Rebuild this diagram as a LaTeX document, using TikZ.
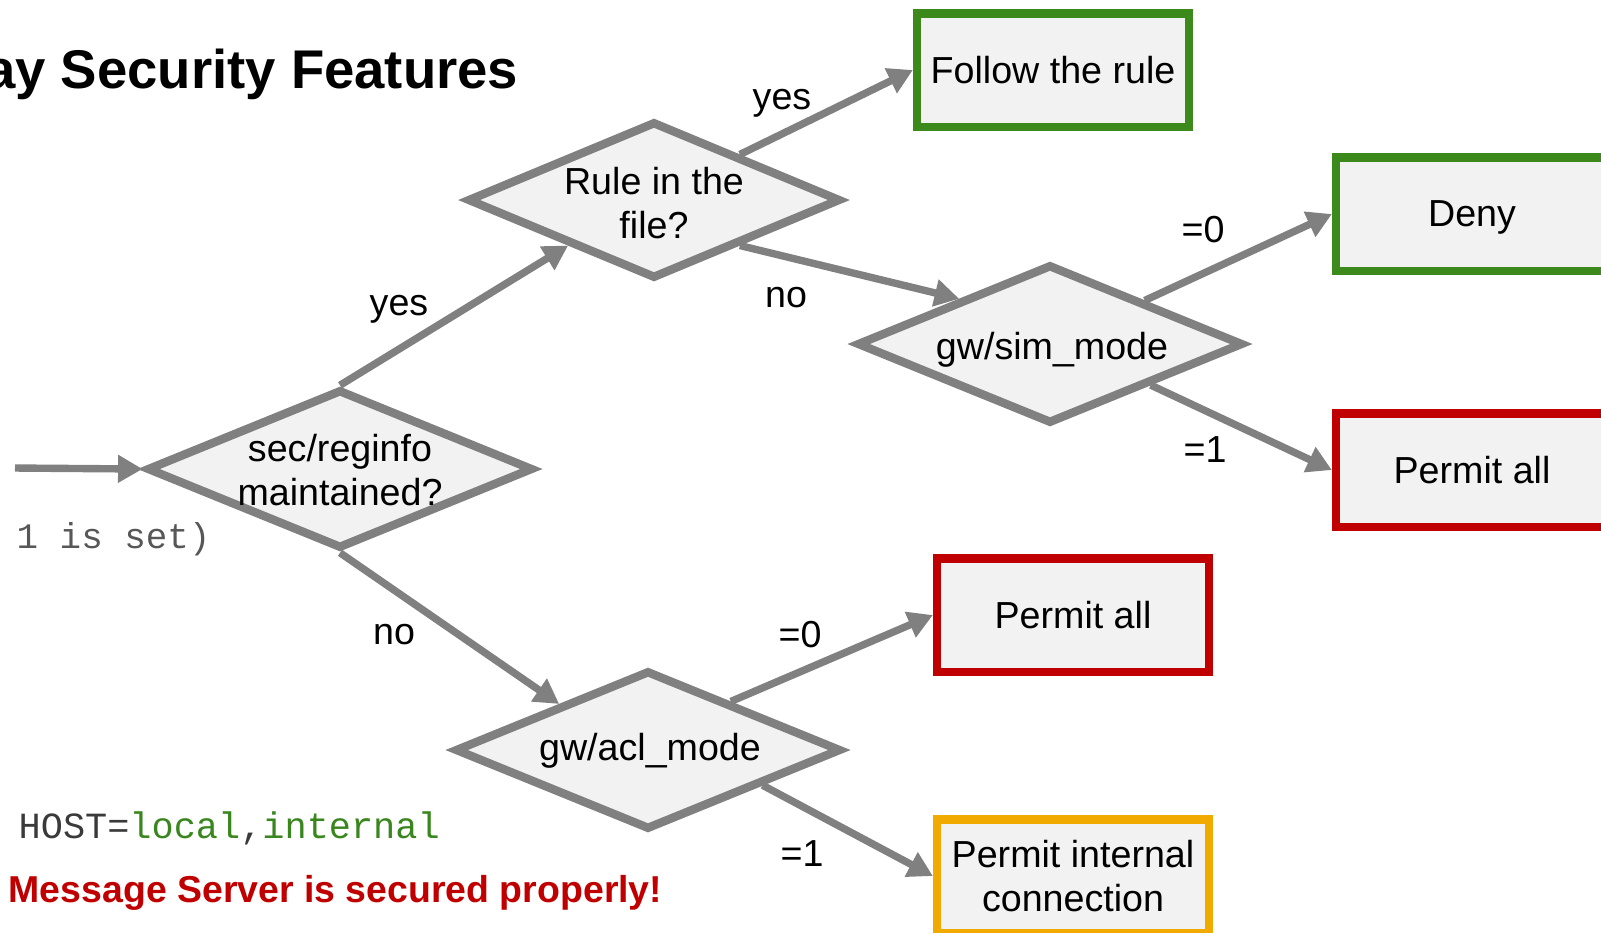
\documentclass[tikz,border=0pt]{standalone}
\usepackage{fontspec}
\setmainfont{Liberation Sans}
\setmonofont{Liberation Mono}
\usetikzlibrary{positioning, arrows.meta, calc, shapes.geometric}

\definecolor{linegray}{HTML}{808080}
\definecolor{boxfill}{HTML}{F2F2F2}
\definecolor{okgreen}{HTML}{3C8A1C}
\definecolor{badred}{HTML}{C00000}
\definecolor{warnorange}{HTML}{F1AB00}
\definecolor{codegreen}{HTML}{38861D}
\definecolor{codegray}{HTML}{3A3A3A}

\newcommand{\mainsize}{\fontsize{10.7pt}{12.6pt}\selectfont}

\tikzset{
  decision/.style={diamond, draw=linegray, fill=boxfill, line width=2.4pt,
    minimum width=3.86cm, minimum height=1.59cm, inner sep=0pt},
  outcome/.style={rectangle, draw=#1, fill=boxfill, line width=2.3pt,
    minimum width=2.72cm, minimum height=1.13cm, align=center, font=\mainsize},
  flow/.style={draw=linegray, line width=2.1pt, -{Triangle[length=7pt,width=7.5pt]}},
  answer/.style={font=\mainsize, align=center, inner sep=0pt},
}

\begin{document}
\begin{tikzpicture}[x=0.01cm, y=-0.01cm]
    % Frame of the slide cut-out
    \path[use as bounding box] (0,0) rectangle (1601,932);
    \clip (0,0) rectangle (1601,932);

    % Title and notes on the left
    \node[anchor=east, inner sep=0pt, font=\bfseries\fontsize{15.5pt}{18pt}\selectfont] (title) at (519,74) {ay Security Features};
    \node[anchor=west, inner sep=0pt, text=codegray!85, font=\ttfamily\fontsize{10.2pt}{12pt}\selectfont] (flagnote) at (16,539) {1 is set)};
    \node[anchor=west, inner sep=0pt, font=\ttfamily\fontsize{10.5pt}{12pt}\selectfont] (hostline) at (18,828)
        {\textcolor{codegray}{HOST=}\textcolor{codegreen}{local}\textcolor{codegray}{,}\textcolor{codegreen}{internal}};
    \node[anchor=west, inner sep=0pt, text=badred, font=\bfseries\fontsize{10.65pt}{12pt}\selectfont] (verdict) at (8,893) {Message Server is secured properly!};

    % Decisions
    \node[decision] (reginfo) at (340,469) {};
    \node[answer] (reginfo text) at (340,470) {sec/reginfo\\maintained?};
    \node[decision, minimum width=3.73cm, minimum height=1.57cm] (rulefile) at (654,200) {};
    \node[answer] (rulefile text) at (654,203) {Rule in the\\file?};
    \node[decision] (simmode) at (1050,344) {};
    \node[answer] (simmode text) at (1052,350) {gw/sim\_mode};
    \node[decision] (aclmode) at (648,750) {};
    \node[answer] (aclmode text) at (650,751) {gw/acl\_mode};

    % Outcomes
    \node[outcome=okgreen] (follow) at (1053,70) {Follow the rule};
    \node[outcome=okgreen, text depth=0pt] (deny) at (1472,214) {Deny};
    \node[outcome=badred] (permitsim) at (1472,470) {Permit all};
    \node[outcome=badred] (permitacl) at (1073,615) {Permit all};
    \node[outcome=warnorange] (permitint) at (1073,876) {Permit internal\\connection};

    % Flow
    \coordinate (entry) at (15,468);
    \draw[flow] (entry) -- (reginfo.west);
    \draw[flow] (reginfo.north) -- ($(rulefile.west)!0.55!(rulefile.south)$);
    \draw[flow] (reginfo.south) -- ($(aclmode.west)!0.55!(aclmode.north)$);
    \draw[flow] ($(rulefile.north)!0.45!(rulefile.east)$) -- (follow.west);
    \draw[flow] ($(rulefile.south)!0.45!(rulefile.east)$) -- ($(simmode.west)!0.54!(simmode.north)$);
    \draw[flow] ($(simmode.north)!0.48!(simmode.east)$) -- (deny.west);
    \draw[flow] ($(simmode.south)!0.51!(simmode.east)$) -- (permitsim.west);
    \draw[flow] ($(aclmode.north)!0.42!(aclmode.east)$) -- (permitacl.west);
    \draw[flow] ($(aclmode.south)!0.58!(aclmode.east)$) -- (permitint.west);

    % Labels
    \node[answer] (yes reginfo) at (399,309) {yes};
    \node[answer] (no reginfo) at (394,635) {no};
    \node[answer] (yes rulefile) at (782,103) {yes};
    \node[answer] (no rulefile) at (786,298) {no};
    \node[answer] (zero sim) at (1203,230) {=0};
    \node[answer] (one sim) at (1205,450) {=1};
    \node[answer] (zero acl) at (800,635) {=0};
    \node[answer] (one acl) at (802,854) {=1};
\end{tikzpicture}
\end{document}
